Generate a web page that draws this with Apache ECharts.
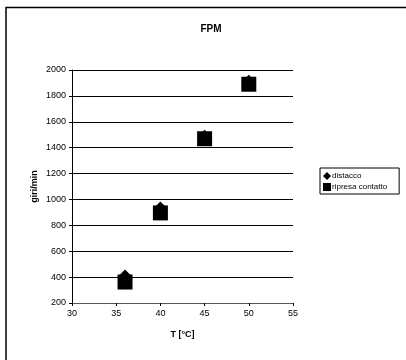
<!DOCTYPE html>
<html><head><meta charset="utf-8">
<script src="https://cdn.jsdelivr.net/npm/echarts@6/dist/echarts.min.js"></script>
<style>html,body{margin:0;padding:0;background:#fff}#c{width:406px;height:360px}</style>
</head><body><div id="c"></div>
<script>
const titleText = "FPM";
const xName = "T [°C]";
const yName = "giri/min";
const seriesNames = ["distacco", "ripresa contatto"];
const temps = [36, 40, 45, 50];
const distacco = [405, 930, 1485, 1910];
const ripresa = [362, 896, 1469, 1890];

const font = "'Liberation Sans', Arial, sans-serif";
const chart = echarts.init(document.getElementById('c'), null, {renderer: 'canvas'});
chart.setOption({
  animation: false,
  backgroundColor: '#fff',
  title: {text: titleText, left: 206, top: 19, textAlign: 'center',
    textStyle: {fontFamily: font, fontSize: 10, fontWeight: 'bold', color: '#000'}},
  graphic: [{type: 'rect', shape: {x: 6, y: 7.5, width: 420, height: 400},
    style: {fill: 'none', stroke: '#000', lineWidth: 1.5}, z: 100}],
  grid: {left: 72, right: 113, top: 70, bottom: 57, containLabel: false},
  legend: {
    orient: 'vertical', left: 320, top: 168, width: 80,
    borderColor: '#000', borderWidth: 1, borderRadius: 0,
    padding: [4, 12, 3, 3], itemGap: 3, itemWidth: 8, itemHeight: 8,
    textStyle: {fontFamily: font, fontSize: 8, color: '#000', padding: [0, 0, 0, -4]},
    data: [{name: seriesNames[0], icon: 'diamond'}, {name: seriesNames[1], icon: 'rect'}]
  },
  xAxis: {
    type: 'value', min: 30, max: 55, interval: 5,
    name: xName, nameLocation: 'middle', nameGap: 27, nameMoveOverlap: false,
    nameTextStyle: {fontFamily: font, fontSize: 9, fontWeight: 'bold', color: '#000'},
    axisLine: {show: true, lineStyle: {color: '#555', width: 1}},
    axisTick: {show: true, inside: false, length: 3, lineStyle: {color: '#000'}},
    axisLabel: {fontFamily: font, fontSize: 9, color: '#000', margin: 6},
    splitLine: {show: false}
  },
  yAxis: {
    type: 'value', min: 200, max: 2000, interval: 200,
    name: yName, nameLocation: 'middle', nameGap: 33, nameRotate: 90, nameMoveOverlap: false,
    nameTextStyle: {fontFamily: font, fontSize: 9, fontWeight: 'bold', color: '#000'},
    axisLine: {show: true, lineStyle: {color: '#000', width: 1}},
    axisTick: {show: true, inside: false, length: 3, lineStyle: {color: '#000'}},
    axisLabel: {fontFamily: font, fontSize: 9, color: '#000', margin: 6,
      formatter: v => String(v)},
    splitLine: {show: true, lineStyle: {color: '#000', width: 1}}
  },
  series: [
    {name: seriesNames[0], type: 'scatter', symbol: 'diamond', symbolSize: 14,
     itemStyle: {color: '#000', opacity: 1}, data: temps.map((t, i) => [t, distacco[i]])},
    {name: seriesNames[1], type: 'scatter', symbol: 'rect', symbolSize: 15,
     itemStyle: {color: '#000', opacity: 1}, data: temps.map((t, i) => [t, ripresa[i]])}
  ]
});
</script></body></html>
